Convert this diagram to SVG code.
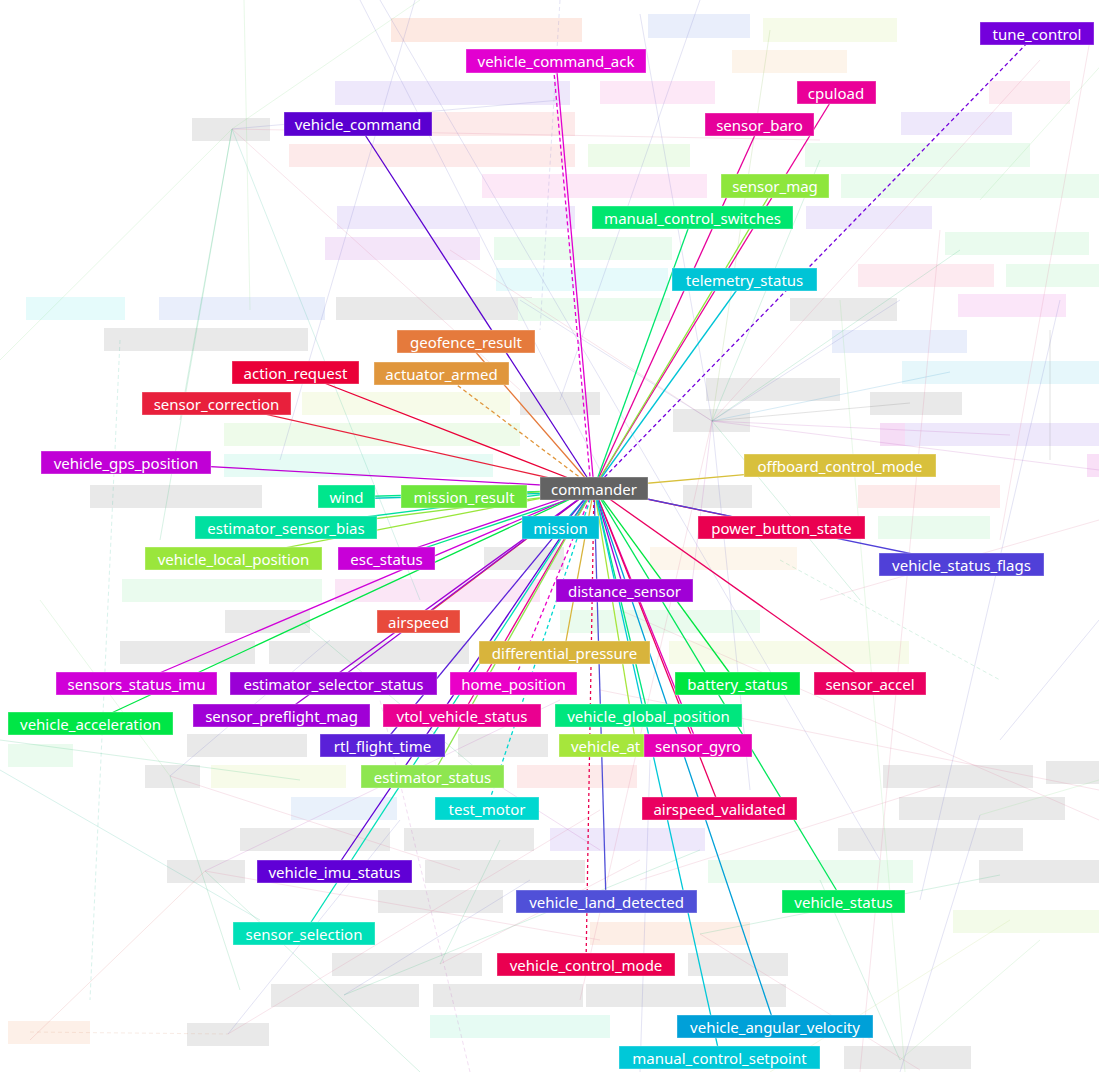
<svg xmlns="http://www.w3.org/2000/svg" width="1099" height="1072" viewBox="0 0 1099 1072">
<style>
.bg rect{stroke:none}
.g{fill:#e9e9e9}
.fl line{stroke-width:1;opacity:0.2}
.c line{stroke-width:1.3;fill:none}
.d{stroke-dasharray:4 3}
.n rect{stroke:#ffffff;stroke-opacity:0.35;stroke-width:1}
.n text{font-family:"Noto Sans","Open Sans","DejaVu Sans",sans-serif;font-size:15px;fill:#ffffff;text-anchor:middle;dominant-baseline:central}
</style>
<rect width="1099" height="1072" fill="#ffffff"/>
<g id="faded-boxes" class="bg">
<rect x="391" y="18" width="191" height="24" fill="#fde9e2"/>
<rect x="648" y="14" width="102" height="24" fill="#e9eefb"/>
<rect x="763" y="18" width="134" height="24" fill="#f6fbe9"/>
<rect x="732" y="50" width="115" height="23" fill="#fdf4ea"/>
<rect x="335" y="81" width="235" height="24" fill="#eee8fb"/>
<rect x="600" y="81" width="115" height="23" fill="#fde8f7"/>
<rect x="989" y="81" width="81" height="23" fill="#fdeaf0"/>
<rect x="192" y="118" width="78" height="23" class="g"/>
<rect x="432" y="112" width="143" height="24" fill="#fdeaea"/>
<rect x="289" y="144" width="286" height="23" fill="#fdeaea"/>
<rect x="588" y="144" width="102" height="23" fill="#edfbe9"/>
<rect x="901" y="112" width="111" height="23" fill="#eee8fb"/>
<rect x="805" y="143" width="225" height="24" fill="#eafbee"/>
<rect x="482" y="174" width="225" height="24" fill="#fde8f7"/>
<rect x="841" y="174" width="258" height="24" fill="#eafbee"/>
<rect x="337" y="206" width="238" height="23" fill="#eee8fb"/>
<rect x="806" y="206" width="126" height="23" fill="#eee8fb"/>
<rect x="325" y="237" width="155" height="23" fill="#f4e5f9"/>
<rect x="494" y="237" width="178" height="23" fill="#eafbee"/>
<rect x="945" y="232" width="144" height="23" fill="#eafbee"/>
<rect x="496" y="268" width="172" height="23" fill="#e6fafb"/>
<rect x="858" y="264" width="136" height="23" fill="#fdeaf0"/>
<rect x="1006" y="264" width="93" height="23" fill="#eafbee"/>
<rect x="26" y="297" width="99" height="23" fill="#e5fbfb"/>
<rect x="159" y="297" width="166" height="23" fill="#e9eefb"/>
<rect x="336" y="297" width="196" height="23" class="g"/>
<rect x="518" y="298" width="152" height="23" fill="#eafbee"/>
<rect x="790" y="298" width="107" height="23" class="g"/>
<rect x="958" y="294" width="108" height="23" fill="#fbe6f9"/>
<rect x="104" y="328" width="204" height="23" class="g"/>
<rect x="832" y="330" width="135" height="23" fill="#e9eefb"/>
<rect x="902" y="361" width="197" height="23" fill="#e6f7fb"/>
<rect x="706" y="378" width="134" height="23" class="g"/>
<rect x="870" y="392" width="92" height="23" class="g"/>
<rect x="302" y="392" width="208" height="23" fill="#f7fbe9"/>
<rect x="520" y="392" width="80" height="23" class="g"/>
<rect x="673" y="409" width="77" height="23" class="g"/>
<rect x="224" y="423" width="296" height="23" fill="#eefbea"/>
<rect x="880" y="423" width="65" height="23" fill="#f6ddf6"/>
<rect x="905" y="423" width="194" height="23" fill="#eee8fb"/>
<rect x="224" y="454" width="269" height="23" fill="#e6fbf5"/>
<rect x="1087" y="454" width="12" height="23" fill="#f9e0f7"/>
<rect x="90" y="485" width="172" height="23" class="g"/>
<rect x="683" y="485" width="69" height="23" class="g"/>
<rect x="858" y="485" width="142" height="23" fill="#fdeaea"/>
<rect x="878" y="516" width="112" height="23" fill="#eafbee"/>
<rect x="650" y="547" width="147" height="23" fill="#fdf6ec"/>
<rect x="484" y="547" width="80" height="23" class="g"/>
<rect x="122" y="579" width="200" height="23" fill="#eafbee"/>
<rect x="335" y="579" width="205" height="23" fill="#fbe6f6"/>
<rect x="560" y="610" width="200" height="23" fill="#eafbee"/>
<rect x="225" y="610" width="85" height="23" class="g"/>
<rect x="120" y="641" width="135" height="23" class="g"/>
<rect x="269" y="641" width="200" height="23" class="g"/>
<rect x="669" y="641" width="240" height="23" fill="#f7fbe9"/>
<rect x="8" y="744" width="65" height="23" fill="#eafbee"/>
<rect x="187" y="734" width="120" height="23" class="g"/>
<rect x="458" y="734" width="90" height="23" class="g"/>
<rect x="145" y="765" width="55" height="23" class="g"/>
<rect x="211" y="765" width="135" height="23" fill="#f7fbe9"/>
<rect x="517" y="765" width="120" height="23" fill="#fdeaea"/>
<rect x="883" y="765" width="150" height="23" class="g"/>
<rect x="1046" y="761" width="53" height="23" class="g"/>
<rect x="291" y="797" width="106" height="23" fill="#e9f1fb"/>
<rect x="899" y="797" width="166" height="23" class="g"/>
<rect x="240" y="828" width="150" height="23" class="g"/>
<rect x="404" y="828" width="130" height="23" class="g"/>
<rect x="550" y="828" width="155" height="23" fill="#eee8fb"/>
<rect x="838" y="828" width="185" height="23" class="g"/>
<rect x="167" y="860" width="78" height="23" class="g"/>
<rect x="425" y="860" width="160" height="23" class="g"/>
<rect x="708" y="860" width="205" height="23" fill="#eafbee"/>
<rect x="979" y="860" width="120" height="23" class="g"/>
<rect x="378" y="890" width="125" height="23" class="g"/>
<rect x="953" y="910" width="146" height="23" fill="#f3fbe9"/>
<rect x="590" y="922" width="160" height="23" fill="#fdeee6"/>
<rect x="332" y="953" width="150" height="23" class="g"/>
<rect x="688" y="953" width="100" height="23" class="g"/>
<rect x="271" y="984" width="148" height="23" class="g"/>
<rect x="433" y="984" width="150" height="23" class="g"/>
<rect x="586" y="984" width="200" height="23" class="g"/>
<rect x="8" y="1021" width="82" height="23" fill="#fdf0e8"/>
<rect x="187" y="1023" width="82" height="23" class="g"/>
<rect x="430" y="1015" width="180" height="23" fill="#e6fbf3"/>
<rect x="844" y="1046" width="127" height="23" class="g"/>
</g>
<g id="faint-lines" class="fl">
<line x1="712" y1="421" x2="900" y2="300" stroke="#7a7acc"/>
<line x1="712" y1="421" x2="1010" y2="435" stroke="#c060c0"/>
<line x1="712" y1="421" x2="950" y2="372" stroke="#40a0d0"/>
<line x1="712" y1="421" x2="910" y2="403" stroke="#777"/>
<line x1="712" y1="421" x2="640" y2="14" stroke="#7a7acc"/>
<line x1="712" y1="421" x2="770" y2="30" stroke="#90c060"/>
<line x1="712" y1="421" x2="1040" y2="60" stroke="#e080a0"/>
<line x1="712" y1="421" x2="860" y2="600" stroke="#40c080"/>
<line x1="712" y1="421" x2="750" y2="790" stroke="#7a7acc"/>
<line x1="712" y1="421" x2="580" y2="1000" stroke="#e080a0"/>
<line x1="712" y1="421" x2="960" y2="250" stroke="#40c080"/>
<line x1="712" y1="421" x2="1099" y2="470" stroke="#c060c0"/>
<line x1="712" y1="421" x2="520" y2="300" stroke="#7a7acc"/>
<line x1="712" y1="421" x2="450" y2="250" stroke="#e080a0"/>
<line x1="712" y1="421" x2="820" y2="160" stroke="#40c080"/>
<line x1="712" y1="421" x2="690" y2="600" stroke="#c060c0"/>
<line x1="232" y1="129" x2="180" y2="420" stroke="#40c080"/>
<line x1="232" y1="129" x2="160" y2="540" stroke="#40c080"/>
<line x1="232" y1="129" x2="420" y2="600" stroke="#40c0a0"/>
<line x1="232" y1="129" x2="0" y2="360" stroke="#90e090"/>
<line x1="232" y1="129" x2="420" y2="0" stroke="#90e090"/>
<line x1="232" y1="129" x2="520" y2="390" stroke="#e080a0"/>
<line x1="232" y1="129" x2="820" y2="140" stroke="#e080a0"/>
<line x1="232" y1="129" x2="560" y2="100" stroke="#7a7acc"/>
<line x1="244" y1="0" x2="250" y2="310" stroke="#90e090"/>
<line x1="360" y1="0" x2="600" y2="470" stroke="#7a7acc"/>
<line x1="380" y1="0" x2="880" y2="860" stroke="#7a7acc"/>
<line x1="415" y1="0" x2="280" y2="460" stroke="#7a7acc"/>
<line x1="560" y1="0" x2="540" y2="330" stroke="#7a7acc" class="d"/>
<line x1="700" y1="0" x2="560" y2="400" stroke="#7a7acc"/>
<line x1="840" y1="300" x2="905" y2="1072" stroke="#90e090"/>
<line x1="940" y1="230" x2="860" y2="1072" stroke="#e080a0"/>
<line x1="1060" y1="300" x2="920" y2="900" stroke="#7a7acc"/>
<line x1="1050" y1="330" x2="1050" y2="460" stroke="#777"/>
<line x1="170" y1="776" x2="40" y2="600" stroke="#90e090"/>
<line x1="170" y1="776" x2="460" y2="870" stroke="#e080a0"/>
<line x1="170" y1="776" x2="330" y2="640" stroke="#7a7acc"/>
<line x1="170" y1="776" x2="240" y2="990" stroke="#40c080"/>
<line x1="205" y1="871" x2="560" y2="700" stroke="#c060c0"/>
<line x1="205" y1="871" x2="420" y2="1072" stroke="#40c080"/>
<line x1="205" y1="871" x2="600" y2="940" stroke="#e080a0"/>
<line x1="205" y1="871" x2="30" y2="1040" stroke="#e08080"/>
<line x1="30" y1="1032" x2="228" y2="1034" stroke="#e0a080" class="d"/>
<line x1="228" y1="1034" x2="400" y2="820" stroke="#7a7acc"/>
<line x1="228" y1="1034" x2="600" y2="810" stroke="#e080a0"/>
<line x1="344" y1="995" x2="530" y2="880" stroke="#7a7acc"/>
<line x1="344" y1="995" x2="700" y2="850" stroke="#40c080"/>
<line x1="440" y1="964" x2="640" y2="860" stroke="#e080a0"/>
<line x1="440" y1="964" x2="500" y2="840" stroke="#40c080"/>
<line x1="700" y1="934" x2="1000" y2="875" stroke="#40c080"/>
<line x1="700" y1="934" x2="920" y2="1070" stroke="#e080a0"/>
<line x1="900" y1="1060" x2="1040" y2="940" stroke="#90e090"/>
<line x1="900" y1="1060" x2="820" y2="880" stroke="#40c080"/>
<line x1="1010" y1="920" x2="770" y2="1072" stroke="#c0e080"/>
<line x1="980" y1="815" x2="1099" y2="780" stroke="#90e090"/>
<line x1="980" y1="815" x2="900" y2="1072" stroke="#7a7acc"/>
<line x1="940" y1="785" x2="640" y2="880" stroke="#e080a0"/>
<line x1="1099" y1="820" x2="620" y2="610" stroke="#e080a0"/>
<line x1="1099" y1="790" x2="600" y2="690" stroke="#e080a0"/>
<line x1="0" y1="740" x2="300" y2="780" stroke="#40c080"/>
<line x1="0" y1="770" x2="260" y2="920" stroke="#40c0a0"/>
<line x1="120" y1="340" x2="90" y2="1000" stroke="#40c0a0" class="d"/>
<line x1="470" y1="1072" x2="380" y2="700" stroke="#c060c0" class="d"/>
<line x1="640" y1="1072" x2="650" y2="760" stroke="#7a7acc"/>
<line x1="1000" y1="740" x2="1099" y2="620" stroke="#7a7acc"/>
<line x1="1090" y1="40" x2="1000" y2="540" stroke="#e080a0"/>
<line x1="1160" y1="0" x2="980" y2="200" stroke="#90e090"/>
<line x1="490" y1="780" x2="300" y2="620" stroke="#40c080"/>
<line x1="490" y1="780" x2="600" y2="850" stroke="#c060c0"/>
<line x1="820" y1="600" x2="1099" y2="520" stroke="#e080a0"/>
<line x1="780" y1="560" x2="1000" y2="680" stroke="#40c080" class="d"/>
</g>
<g id="connectors" class="c">
<line x1="1037" y1="33" x2="594" y2="488" stroke="#7400dc" class="d"/>
<line x1="556" y1="61" x2="594" y2="488" stroke="#e200d0" stroke-width="1.8"/>
<line x1="553" y1="61" x2="591" y2="488" stroke="#e200d0" class="d"/>
<line x1="836" y1="93" x2="594" y2="488" stroke="#ea0098"/>
<line x1="358" y1="124" x2="594" y2="488" stroke="#5a00d0" stroke-width="1.5"/>
<line x1="760" y1="124" x2="594" y2="488" stroke="#e6009a"/>
<line x1="775" y1="186" x2="594" y2="488" stroke="#8ee63c"/>
<line x1="692" y1="218" x2="594" y2="488" stroke="#00e66e"/>
<line x1="744" y1="280" x2="594" y2="488" stroke="#00c4d6"/>
<line x1="466" y1="341" x2="594" y2="488" stroke="#e57a3c"/>
<line x1="296" y1="372" x2="594" y2="488" stroke="#ea0038"/>
<line x1="441" y1="373" x2="594" y2="488" stroke="#e0963c" class="d"/>
<line x1="216" y1="403" x2="594" y2="488" stroke="#e8203c"/>
<line x1="126" y1="462" x2="594" y2="488" stroke="#c000d6" stroke-width="1.5"/>
<line x1="840" y1="466" x2="594" y2="488" stroke="#d8c03c"/>
<line x1="346" y1="497" x2="594" y2="490" stroke="#00e68c"/>
<line x1="346" y1="499" x2="594" y2="492" stroke="#00c8c0"/>
<line x1="464" y1="497" x2="594" y2="488" stroke="#6ee63c"/>
<line x1="286" y1="527" x2="594" y2="488" stroke="#00e0a0"/>
<line x1="286" y1="530" x2="594" y2="491" stroke="#90e640"/>
<line x1="560" y1="527" x2="594" y2="488" stroke="#00c0d8"/>
<line x1="781" y1="527" x2="594" y2="488" stroke="#ea0050"/>
<line x1="233" y1="558" x2="594" y2="488" stroke="#9ae63c"/>
<line x1="386" y1="558" x2="594" y2="488" stroke="#c800d8"/>
<line x1="386" y1="561" x2="594" y2="491" stroke="#00e68c"/>
<line x1="961" y1="564" x2="594" y2="488" stroke="#5040d8" stroke-width="1.5"/>
<line x1="624" y1="590" x2="594" y2="488" stroke="#a000d6"/>
<line x1="418" y1="621" x2="594" y2="488" stroke="#e84a3c"/>
<line x1="564" y1="652" x2="594" y2="488" stroke="#d8b43c"/>
<line x1="136" y1="683" x2="594" y2="488" stroke="#d000d8"/>
<line x1="334" y1="683" x2="594" y2="488" stroke="#9a00d6"/>
<line x1="513" y1="683" x2="594" y2="488" stroke="#ea00c8" class="d"/>
<line x1="737" y1="683" x2="594" y2="488" stroke="#00e640"/>
<line x1="870" y1="683" x2="594" y2="488" stroke="#ea0060"/>
<line x1="90" y1="723" x2="594" y2="488" stroke="#00e646"/>
<line x1="281" y1="715" x2="594" y2="488" stroke="#a000d6"/>
<line x1="462" y1="715" x2="594" y2="488" stroke="#ea0090"/>
<line x1="648" y1="715" x2="594" y2="488" stroke="#00e67e"/>
<line x1="382" y1="745" x2="594" y2="488" stroke="#5a20d8"/>
<line x1="636" y1="745" x2="594" y2="488" stroke="#a6e63c"/>
<line x1="698" y1="745" x2="594" y2="488" stroke="#e600b4"/>
<line x1="432" y1="776" x2="594" y2="488" stroke="#8ee650"/>
<line x1="487" y1="808" x2="594" y2="488" stroke="#00d8d0" class="d"/>
<line x1="720" y1="808" x2="594" y2="488" stroke="#ea0060" stroke-width="1.6"/>
<line x1="334" y1="871" x2="594" y2="488" stroke="#6000d6"/>
<line x1="606" y1="901" x2="594" y2="488" stroke="#5050d8" stroke-width="1.5"/>
<line x1="843" y1="901" x2="594" y2="488" stroke="#00e65a" stroke-width="1.5"/>
<line x1="304" y1="933" x2="594" y2="488" stroke="#00e0b8"/>
<line x1="586" y1="964" x2="594" y2="488" stroke="#ea0050" stroke-width="1.8" stroke-dasharray="3 3"/>
<line x1="775" y1="1026" x2="594" y2="488" stroke="#00a0d8"/>
<line x1="720" y1="1057" x2="594" y2="488" stroke="#00c8d8"/>
</g>
<g id="tune_control" class="n"><rect x="980" y="22" width="114" height="23" fill="#7400dc"/><text x="1037" y="33.5">tune_control</text></g>
<g id="vehicle_command_ack" class="n"><rect x="466" y="49" width="180" height="24" fill="#e200d0"/><text x="556" y="61">vehicle_command_ack</text></g>
<g id="cpuload" class="n"><rect x="797" y="81" width="79" height="23" fill="#ea0098"/><text x="836" y="92.5">cpuload</text></g>
<g id="vehicle_command" class="n"><rect x="284" y="112" width="148" height="24" fill="#5a00d0"/><text x="358" y="124">vehicle_command</text></g>
<g id="sensor_baro" class="n"><rect x="705" y="113" width="109" height="23" fill="#e6009a"/><text x="759.5" y="124.5">sensor_baro</text></g>
<g id="sensor_mag" class="n"><rect x="721" y="174" width="108" height="24" fill="#8ee63c"/><text x="775" y="186">sensor_mag</text></g>
<g id="manual_control_switches" class="n"><rect x="592" y="206" width="201" height="23" fill="#00e66e"/><text x="692.5" y="217.5">manual_control_switches</text></g>
<g id="telemetry_status" class="n"><rect x="672" y="268" width="145" height="23" fill="#00c4d6"/><text x="744.5" y="279.5">telemetry_status</text></g>
<g id="geofence_result" class="n"><rect x="397" y="330" width="138" height="23" fill="#e57a3c"/><text x="466" y="341.5">geofence_result</text></g>
<g id="action_request" class="n"><rect x="232" y="361" width="127" height="23" fill="#ea0038"/><text x="295.5" y="372.5">action_request</text></g>
<g id="actuator_armed" class="n"><rect x="374" y="362" width="135" height="23" fill="#e0963c"/><text x="441.5" y="373.5">actuator_armed</text></g>
<g id="sensor_correction" class="n"><rect x="142" y="392" width="149" height="23" fill="#e8203c"/><text x="216.5" y="403.5">sensor_correction</text></g>
<g id="vehicle_gps_position" class="n"><rect x="41" y="451" width="170" height="23" fill="#c000d6"/><text x="126" y="462.5">vehicle_gps_position</text></g>
<g id="offboard_control_mode" class="n"><rect x="744" y="454" width="192" height="23" fill="#d8c03c"/><text x="840" y="465.5">offboard_control_mode</text></g>
<g id="commander" class="n"><rect x="540" y="477" width="108" height="23" fill="#636363"/><text x="594" y="488.5">commander</text></g>
<g id="wind" class="n"><rect x="318" y="485" width="57" height="23" fill="#00e68c"/><text x="346.5" y="496.5">wind</text></g>
<g id="mission_result" class="n"><rect x="401" y="485" width="126" height="23" fill="#6ee63c"/><text x="464" y="496.5">mission_result</text></g>
<g id="estimator_sensor_bias" class="n"><rect x="195" y="516" width="182" height="23" fill="#00e0a0"/><text x="286" y="527.5">estimator_sensor_bias</text></g>
<g id="mission" class="n"><rect x="522" y="516" width="77" height="23" fill="#00c0d8"/><text x="560.5" y="527.5">mission</text></g>
<g id="power_button_state" class="n"><rect x="698" y="516" width="167" height="23" fill="#ea0050"/><text x="781.5" y="527.5">power_button_state</text></g>
<g id="vehicle_local_position" class="n"><rect x="145" y="547" width="177" height="23" fill="#9ae63c"/><text x="233.5" y="558.5">vehicle_local_position</text></g>
<g id="esc_status" class="n"><rect x="338" y="547" width="97" height="23" fill="#c800d8"/><text x="386.5" y="558.5">esc_status</text></g>
<g id="vehicle_status_flags" class="n"><rect x="879" y="553" width="165" height="23" fill="#5040d8"/><text x="961.5" y="564.5">vehicle_status_flags</text></g>
<g id="distance_sensor" class="n"><rect x="556" y="579" width="137" height="23" fill="#a000d6"/><text x="624.5" y="590.5">distance_sensor</text></g>
<g id="airspeed" class="n"><rect x="377" y="610" width="83" height="23" fill="#e84a3c"/><text x="418.5" y="621.5">airspeed</text></g>
<g id="differential_pressure" class="n"><rect x="479" y="641" width="171" height="23" fill="#d8b43c"/><text x="564.5" y="652.5">differential_pressure</text></g>
<g id="sensors_status_imu" class="n"><rect x="56" y="672" width="161" height="23" fill="#d000d8"/><text x="136.5" y="683.5">sensors_status_imu</text></g>
<g id="estimator_selector_status" class="n"><rect x="230" y="672" width="207" height="23" fill="#9a00d6"/><text x="333.5" y="683.5">estimator_selector_status</text></g>
<g id="home_position" class="n"><rect x="450" y="672" width="127" height="23" fill="#ea00c8"/><text x="513.5" y="683.5">home_position</text></g>
<g id="battery_status" class="n"><rect x="675" y="672" width="125" height="23" fill="#00e640"/><text x="737.5" y="683.5">battery_status</text></g>
<g id="sensor_accel" class="n"><rect x="814" y="672" width="112" height="23" fill="#ea0060"/><text x="870" y="683.5">sensor_accel</text></g>
<g id="vehicle_acceleration" class="n"><rect x="8" y="712" width="165" height="23" fill="#00e646"/><text x="90.5" y="723.5">vehicle_acceleration</text></g>
<g id="sensor_preflight_mag" class="n"><rect x="193" y="704" width="177" height="23" fill="#a000d6"/><text x="281.5" y="715.5">sensor_preflight_mag</text></g>
<g id="vtol_vehicle_status" class="n"><rect x="383" y="704" width="158" height="23" fill="#ea0090"/><text x="462" y="715.5">vtol_vehicle_status</text></g>
<g id="vehicle_global_position" class="n"><rect x="555" y="704" width="187" height="23" fill="#00e67e"/><text x="648.5" y="715.5">vehicle_global_position</text></g>
<g id="rtl_flight_time" class="n"><rect x="320" y="734" width="125" height="23" fill="#5a20d8"/><text x="382.5" y="745.5">rtl_flight_time</text></g>
<g id="vehicle_attitude" class="n"><rect x="559" y="734" width="155" height="23" fill="#a6e63c"/><text x="571" y="745.5" style="text-anchor:start">vehicle_at</text></g>
<g id="sensor_gyro" class="n"><rect x="644" y="734" width="108" height="23" fill="#e600b4"/><text x="698" y="745.5">sensor_gyro</text></g>
<g id="estimator_status" class="n"><rect x="361" y="765" width="143" height="23" fill="#8ee650"/><text x="432.5" y="776.5">estimator_status</text></g>
<g id="test_motor" class="n"><rect x="435" y="797" width="104" height="23" fill="#00d8d0"/><text x="487" y="808.5">test_motor</text></g>
<g id="airspeed_validated" class="n"><rect x="642" y="797" width="155" height="23" fill="#ea0060"/><text x="719.5" y="808.5">airspeed_validated</text></g>
<g id="vehicle_imu_status" class="n"><rect x="257" y="860" width="155" height="23" fill="#6000d6"/><text x="334.5" y="871.5">vehicle_imu_status</text></g>
<g id="vehicle_land_detected" class="n"><rect x="516" y="890" width="181" height="23" fill="#5050d8"/><text x="606.5" y="901.5">vehicle_land_detected</text></g>
<g id="vehicle_status" class="n"><rect x="782" y="890" width="123" height="23" fill="#00e65a"/><text x="843.5" y="901.5">vehicle_status</text></g>
<g id="sensor_selection" class="n"><rect x="233" y="922" width="142" height="23" fill="#00e0b8"/><text x="304" y="933.5">sensor_selection</text></g>
<g id="vehicle_control_mode" class="n"><rect x="497" y="953" width="178" height="23" fill="#ea0050"/><text x="586" y="964.5">vehicle_control_mode</text></g>
<g id="vehicle_angular_velocity" class="n"><rect x="677" y="1015" width="196" height="23" fill="#00a0d8"/><text x="775" y="1026.5">vehicle_angular_velocity</text></g>
<g id="manual_control_setpoint" class="n"><rect x="619" y="1046" width="201" height="23" fill="#00c8d8"/><text x="719.5" y="1057.5">manual_control_setpoint</text></g>
</svg>
